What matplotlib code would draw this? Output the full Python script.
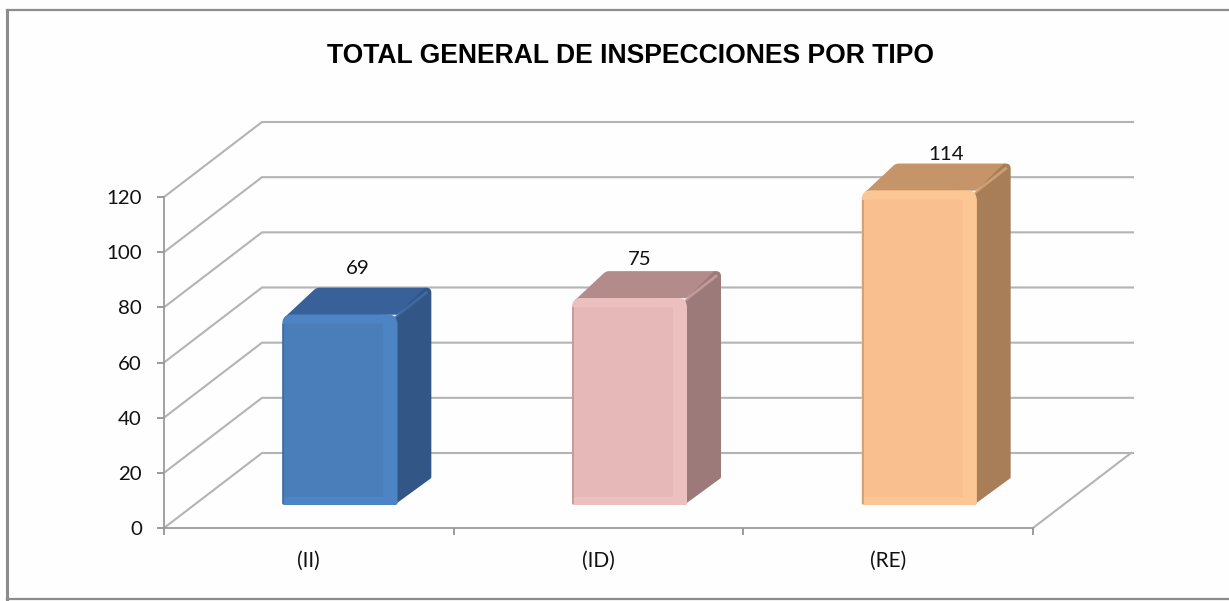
#!/usr/bin/env python3
"""Total general de inspecciones por tipo - Excel style 3D columns."""

import numpy as np
import matplotlib
matplotlib.use('Agg')
import matplotlib.pyplot as plt
from matplotlib.patches import PathPatch
from matplotlib.path import Path
from matplotlib.lines import Line2D

categories = ['(II)', '(ID)', '(RE)']
values = [69, 75, 114]
y_ticks = [0, 20, 40, 60, 80, 100, 120]
title = 'TOTAL GENERAL DE INSPECCIONES POR TIPO'

front_colors = ['#4a7ebb', '#e6b9b8', '#fabf8f']
bevel_colors = ['#4d84c4', '#ebc0bf', '#fcc695']
side_colors = ['#325685', '#9d7a7a', '#a87e58']
top_colors = ['#38619a', '#b48b8b', '#c59468']
label_shift = [(18, 19), (10, 12), (27, 9)]

W, H = 1229, 601
AX_L, AX_R, AX_B, AX_T = 164, 1033, 528, 197
GRID = '#b4b4b4'
WALL_DX, WALL_DY = 98, 75
BAR_W = 115
BAR_GAP_DX, BAR_GAP_DY = 31, 23
BAR_DX, BAR_DY = 34, 27

# pixel sizes in data units
PX = 3 / (AX_R - AX_L)
PY = 120 / (AX_B - AX_T)


def rounded(ax, pts, radii, color, z, alpha=1.0):
    """Filled polygon, each corner rounded by a radius given in pixels"""
    px = np.array(pts) / [PX, PY]
    n = len(px)
    verts, codes = [], []
    for k in range(n):
        p, prev, nxt = px[k], px[k - 1], px[(k + 1) % n]
        r = radii[k]
        if r == 0:
            verts.append(p)
            codes.append(Path.LINETO)
            continue
        a = p + (prev - p) / np.linalg.norm(prev - p) * r
        b = p + (nxt - p) / np.linalg.norm(nxt - p) * r
        verts += [a, p, b]
        codes += [Path.LINETO, Path.CURVE3, Path.CURVE3]
    codes[0] = Path.MOVETO
    verts.append(verts[0])
    codes.append(Path.CLOSEPOLY)
    path = Path(np.array(verts) * [PX, PY], codes)
    ax.add_patch(PathPatch(path, facecolor=color, edgecolor='none', zorder=z,
                           clip_on=False, alpha=alpha))


def draw_bar(ax, i, value):
    x0 = i + 0.5 - BAR_W * PX / 2 + BAR_GAP_DX * PX
    x1 = x0 + BAR_W * PX
    y0 = BAR_GAP_DY * PY
    y1 = y0 + value
    dx, dy = BAR_DX * PX, BAR_DY * PY

    # top and side
    rounded(ax, [(x0 + 3 * PX, y1 - 2 * PY), (x0 + dx, y1 + dy), (x1 + dx, y1 + dy), (x1, y1)],
            [0, 3, 9, 0], top_colors[i], 5)
    rounded(ax, [(x1 - 3 * PX, y0), (x1 + dx, y0 + dy), (x1 + dx, y1 + dy),
                 (x1 + dx - 7 * PX, y1 + dy), (x1 - 3 * PX, y1 - 3 * PY)],
            [0, 1, 5, 0, 0], side_colors[i], 6)
    # front face with rounded upper corners
    rounded(ax, [(x0, y0), (x1, y0), (x1, y1), (x0, y1)], [2, 2, 9, 9], front_colors[i], 7)
    # bevel strips
    rounded(ax, [(x0 + 1 * PX, y1 - 9 * PY), (x1 - 1 * PX, y1 - 9 * PY), (x1 - 1 * PX, y1), (x0 + 1 * PX, y1)],
            [0, 0, 8, 8], bevel_colors[i], 8)
    rounded(ax, [(x1 - 14 * PX, y0 + 1 * PY), (x1, y0 + 1 * PY), (x1, y1 - 8 * PY), (x1 - 14 * PX, y1 - 8 * PY)],
            [0, 1, 0, 0], bevel_colors[i], 8)
    rounded(ax, [(x0 + 1 * PX, y0), (x1 - 3 * PX, y0), (x1 - 3 * PX, y0 + 8 * PY), (x0 + 1 * PX, y0 + 8 * PY)],
            [1, 0, 0, 0], bevel_colors[i], 8)
    rounded(ax, [(x0, y0 + 1 * PY), (x0 + 2 * PX, y0 + 1 * PY), (x0 + 2 * PX, y1 - 9 * PY), (x0, y1 - 9 * PY)],
            [0, 0, 0, 0], side_colors[i], 9, alpha=0.45)
    ax.plot([x1 - 3 * PX, x1 + dx - 5 * PX], [y1 - 3 * PY, y1 + dy - 5 * PY], color=bevel_colors[i], lw=2,
            alpha=0.45, zorder=9, clip_on=False)

    sx, sy = label_shift[i]
    ax.text((x0 + x1) / 2 + sx * PX, y1 + dy + sy * PY, str(value),
            ha='center', va='center', fontsize=14.7, color='#111111', zorder=10)


def main():
    plt.rcParams['font.family'] = ['Lato', 'DejaVu Sans']
    fig = plt.figure(figsize=(W / 100, H / 100), dpi=100, facecolor='#fefefe')
    ax = fig.add_axes([AX_L / W, 1 - AX_B / H, (AX_R - AX_L) / W, (AX_B - AX_T) / H])
    ax.patch.set_alpha(0)
    ax.set_xlim(0, 3)
    ax.set_ylim(0, 120)

    ax.spines['top'].set_visible(False)
    ax.spines['right'].set_visible(False)
    for side in ['left', 'bottom']:
        ax.spines[side].set_color('#9a9a9a')
        ax.spines[side].set_linewidth(1.3)

    ax.set_yticks(y_ticks)
    ax.set_xticks([0, 1, 2, 3])
    ax.set_xticklabels([])
    ax.set_xticks([0.5, 1.5, 2.5], minor=True)
    ax.set_xticklabels(categories, minor=True, fontsize=15, color='#111111')
    ax.tick_params(axis='x', which='minor', length=0, pad=16.5)
    ax.tick_params(axis='x', which='major', length=5, width=1.2, color='#8a8a8a')
    ax.tick_params(axis='y', length=5, width=1.2, color='#8a8a8a', labelsize=14.7,
                   labelcolor='#111111', pad=11)

    # walls and floor
    wdx, wdy = WALL_DX * PX, WALL_DY * PY
    x_back = 3 + (WALL_DX + 2) * PX
    for t in y_ticks:
        ax.plot([0, wdx, x_back], [t, t + wdy, t + wdy], color=GRID, lw=1.5,
                zorder=1, clip_on=False, solid_joinstyle='miter')
    ax.plot([3, 3 + wdx], [0, wdy], color=GRID, lw=1.5, zorder=1, clip_on=False)

    for i, v in enumerate(values):
        draw_bar(ax, i, v)

    fig.text(630.5 / W, 1 - 56 / H, title, ha='center', va='center', fontsize=19.1,
             fontweight='bold', family=['Liberation Sans'], color='black')

    # outer frame
    for xs, ys, lw in [((7, 7), (10, 599), 2.2), ((7, W), (10, 10), 1.6), ((7, W), (599, 599), 1.6)]:
        fig.add_artist(Line2D([x / W for x in xs], [1 - y / H for y in ys],
                              color='#8c8c8c', lw=lw))

    fig.savefig('out.png', dpi=100, facecolor=fig.get_facecolor())


if __name__ == '__main__':
    main()
